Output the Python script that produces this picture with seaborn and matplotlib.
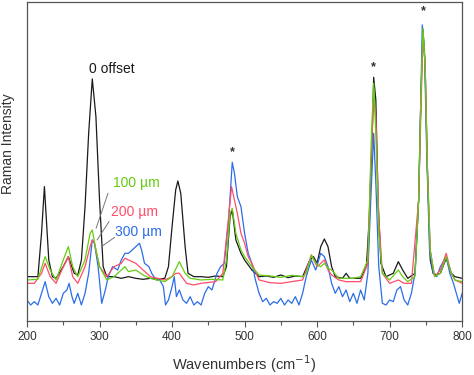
import numpy as np
import pandas as pd
import seaborn as sns
import matplotlib.pyplot as plt

# spectra (wavenumber, intensity in arbitrary units)
x_0 = [200, 215, 220, 224, 230, 235, 240, 250, 257, 265,
       270, 275, 280, 285, 290, 295, 300, 305, 310, 320,
       330, 340, 350, 360, 370, 380, 390, 395, 400, 405,
       408, 412, 418, 422, 430, 440, 450, 460, 470, 475,
       480, 483, 488, 495, 500, 510, 520, 530, 540, 550,
       560, 570, 580, 590, 595, 600, 605, 610, 615, 620,
       625, 635, 640, 645, 660, 668, 672, 676, 678, 681,
       684, 688, 695, 705, 712, 718, 725, 735, 740, 743,
       746, 749, 752, 756, 760, 765, 770, 778, 785, 790,
       800]
y_0 = [133, 133, 263, 403, 183, 133, 128, 163, 193, 143,
       138, 183, 343, 563, 726, 613, 363, 163, 133, 133,
       128, 133, 128, 125, 128, 125, 128, 163, 283, 393,
       420, 383, 223, 143, 133, 133, 131, 135, 133, 163,
       313, 333, 243, 203, 183, 153, 133, 135, 131, 138,
       130, 135, 133, 183, 193, 173, 223, 246, 223, 163,
       133, 128, 143, 128, 128, 163, 313, 563, 731, 663,
       363, 173, 133, 143, 178, 153, 128, 143, 363, 663,
       873, 763, 463, 183, 143, 138, 143, 188, 143, 133,
       128]

x_100 = [200, 215, 225, 232, 240, 250, 257, 263, 270, 280,
         287, 290, 295, 300, 310, 320, 330, 335, 340, 350,
         360, 370, 380, 390, 400, 410, 418, 425, 440, 455,
         470, 475, 480, 483, 488, 495, 500, 510, 520, 535,
         550, 565, 580, 585, 592, 600, 605, 610, 615, 620,
         630, 640, 650, 660, 670, 675, 678, 681, 685, 690,
         700, 712, 718, 725, 735, 740, 743, 746, 749, 752,
         756, 762, 770, 778, 785, 790, 800]
y_100 = [123, 125, 193, 153, 123, 183, 223, 163, 133, 183,
         263, 273, 213, 163, 123, 133, 153, 163, 148, 153,
         138, 128, 123, 118, 133, 178, 143, 128, 123, 125,
         123, 183, 323, 338, 263, 213, 193, 163, 138, 135,
         131, 137, 133, 143, 198, 168, 163, 173, 158, 153,
         128, 128, 128, 133, 183, 563, 713, 563, 263, 143,
         123, 153, 133, 118, 133, 363, 663, 878, 763, 463,
         213, 133, 143, 193, 143, 123, 118]

x_200 = [200, 210, 220, 225, 232, 240, 250, 257, 263, 270,
         280, 287, 290, 293, 300, 310, 320, 330, 335, 340,
         350, 360, 370, 380, 390, 400, 405, 410, 420, 430,
         440, 460, 470, 478, 482, 486, 490, 495, 500, 505,
         510, 520, 535, 550, 565, 580, 585, 592, 600, 605,
         610, 615, 620, 630, 640, 660, 670, 674, 678, 681,
         685, 690, 700, 712, 720, 730, 740, 743, 746, 749,
         752, 756, 762, 770, 778, 785, 790, 800]
y_200 = [113, 113, 143, 173, 133, 113, 163, 193, 133, 113,
         163, 223, 243, 233, 163, 133, 163, 173, 188, 183,
         173, 153, 133, 128, 123, 133, 143, 143, 113, 108,
         113, 118, 143, 313, 403, 363, 323, 263, 233, 193,
         173, 123, 115, 113, 118, 123, 153, 198, 163, 173,
         183, 153, 138, 123, 118, 118, 173, 463, 663, 613,
         313, 143, 113, 123, 113, 113, 363, 613, 863, 763,
         463, 213, 133, 153, 203, 143, 123, 113]

x_300 = [200, 205, 210, 215, 220, 225, 230, 235, 240, 245,
         250, 255, 258, 262, 265, 270, 275, 280, 285, 290,
         293, 298, 303, 308, 312, 318, 325, 330, 335, 340,
         345, 350, 355, 358, 362, 368, 372, 378, 383, 388,
         391, 395, 400, 403, 406, 410, 415, 420, 425, 430,
         435, 440, 445, 450, 455, 462, 467, 472, 478, 483,
         486, 490, 495, 500, 505, 510, 515, 520, 525, 530,
         535, 540, 545, 550, 555, 560, 565, 570, 575, 580,
         585, 592, 598, 605, 610, 615, 620, 625, 630, 635,
         640, 645, 650, 655, 660, 665, 670, 674, 678, 681,
         685, 690, 695, 700, 705, 710, 715, 720, 725, 730,
         735, 740, 743, 745, 748, 751, 755, 760, 765, 770,
         778, 783, 788, 792, 796, 800]
y_300 = [63, 48, 58, 48, 83, 118, 73, 53, 68, 48,
         83, 93, 113, 73, 53, 83, 48, 83, 143, 243,
         233, 163, 53, 93, 133, 163, 153, 183, 203, 203,
         213, 223, 233, 213, 173, 163, 143, 123, 123, 103,
         48, 63, 103, 133, 73, 93, 63, 53, 73, 48,
         58, 48, 83, 103, 93, 143, 163, 173, 303, 476,
         443, 373, 343, 263, 203, 173, 123, 83, 58, 68,
         48, 58, 53, 68, 48, 63, 53, 73, 48, 83,
         133, 183, 153, 203, 193, 163, 113, 83, 103, 73,
         93, 58, 83, 53, 93, 63, 143, 363, 563, 413,
         163, 53, 48, 63, 58, 93, 103, 63, 48, 83,
         143, 363, 663, 888, 813, 513, 213, 143, 133, 163,
         193, 143, 113, 83, 53, 83]

labels = ["0 offset", "100 \u00b5m", "200 \u00b5m", "300 \u00b5m"]
colors = ["#1a1a1a", "#66cc11", "#ff4d6a", "#2b6de8"]
star_pos = [483, 678, 746]

frames = []
for lab, xs, ys in zip(labels, [x_0, x_100, x_200, x_300], [y_0, y_100, y_200, y_300]):
    frames.append(pd.DataFrame({"Wavenumber": xs, "Intensity": ys, "Sample": lab}))
df = pd.concat(frames, ignore_index=True)

sns.set_style("ticks")
plt.rcParams['font.family'] = ['Liberation Sans', 'DejaVu Sans']

fig = plt.figure(figsize=(4.74, 3.75), dpi=100)
ax = fig.add_axes([0.057, 0.144, 0.918, 0.851])

# draw order: black, blue, red, green
for lab in ["0 offset", "300 \u00b5m", "200 \u00b5m", "100 \u00b5m"]:
    sub = df[df.Sample == lab]
    sns.lineplot(data=sub, x="Wavenumber", y="Intensity", color=colors[labels.index(lab)],
                 lw=0.9, estimator=None, ax=ax)

ax.set_xlim(200, 800)
ax.set_ylim(0, 957)
ax.set_xticks(range(200, 801, 100))
ax.set_xticks(range(250, 800, 100), minor=True)
ax.set_yticks([])
ax.tick_params(axis='x', which='major', direction='out', length=4, width=0.8,
               colors='#555555', labelsize=8.5, labelcolor='#333333')
ax.tick_params(axis='x', which='minor', direction='out', length=3, width=0.8, colors='#555555')
for s in ax.spines.values():
    s.set_color('#555555')
    s.set_linewidth(0.9)

ax.set_xlabel("Wavenumbers (cm$^{-1}$)", fontsize=10.5, color='#333333', labelpad=7)
ax.set_ylabel("Raman Intensity", fontsize=10, color='#333333')
ax.yaxis.set_label_coords(-0.028, 0.555)

# labels
ax.text(286, 755, labels[0], fontsize=10, color=colors[0], va='center')
ax.text(318, 413, labels[1], fontsize=10, color=colors[1], va='center')
ax.text(316, 326, labels[2], fontsize=10, color=colors[2], va='center')
ax.text(321, 266, labels[3], fontsize=10, color=colors[3], va='center')

# leader lines
ax.plot([311.7, 295.2], [383, 278], color='#777777', lw=0.7)
ax.plot([313.1, 296.6], [298, 243], color='#777777', lw=0.7)
ax.plot([320.9, 302.5], [251, 223], color='#777777', lw=0.7)

# peak markers
for xp, yp in zip(star_pos, [506, 760, 928]):
    ax.text(xp, yp, "*", fontsize=9, color='#333333', ha='center', va='center', fontweight='bold')

fig.savefig("out.png", dpi=100)
